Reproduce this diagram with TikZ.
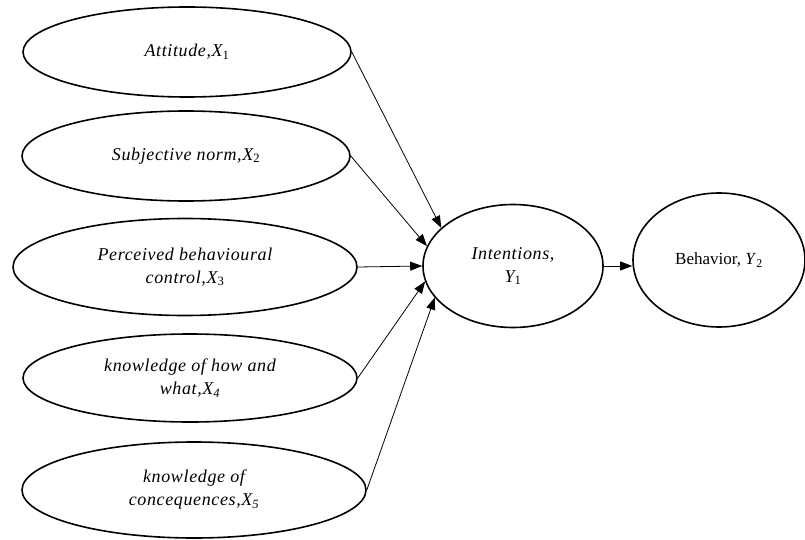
\documentclass[tikz,border=0pt]{standalone}
\usepackage{fontspec}
\setmainfont{Liberation Serif}
\newfontfamily\itspaced[LetterSpace=3.5]{Liberation Serif}
\usetikzlibrary{shapes.geometric,arrows.meta}
\begin{document}
\begin{tikzpicture}[x=1pt,y=-1pt,
  ell/.style={ellipse,draw,line width=1.6pt,inner sep=0pt,align=center,
    font=\itspaced\fontsize{18}{23}\selectfont\itshape},
  arr/.style={line width=0.8pt,-{Triangle[length=12pt,width=9pt]}}]
\useasboundingbox (0,0) rectangle (805,540);
\node[ell,minimum width=328,minimum height=90] (x1) at (187,52) {Attitude,\textit{X}\textsubscript{\upshape 1}};
\node[ell,minimum width=328,minimum height=90] (x2) at (186,156) {Subjective norm,\textit{X}\textsubscript{\upshape 2}};
\node[ell,minimum width=344,minimum height=97] (x3) at (185,267) {Perceived behavioural\\control,\textit{X}\textsubscript{\upshape 3}};
\node[ell,minimum width=334,minimum height=88] (x4) at (190,378) {knowledge of how and\\what,\textit{X}\textsubscript{4}};
\node[ell,minimum width=344,minimum height=96] (x5) at (194,490) {knowledge of\\concequences,\textit{X}\textsubscript{5}};
\node[ell,minimum width=180,minimum height=123] (y1) at (513,266) {Intentions,\\\textit{Y}\textsubscript{\upshape 1}};
\node[ell,minimum width=172,minimum height=134,font=\fontsize{17}{22}\selectfont] (y2) at (719,260) {Behavior, \textit{Y}\textsubscript{2}};
\draw[arr] (x1.east) -- (y1.152);
\draw[arr] (x2.east) -- (y1.167);
\draw[arr] (x3.east) -- (y1.west);
\draw[arr] (x4.east) -- (y1.190);
\draw[arr] (x5.east) -- (y1.202);
\draw[arr] (y1.east) -- (y1.east -| y2.west);
\end{tikzpicture}
\end{document}
